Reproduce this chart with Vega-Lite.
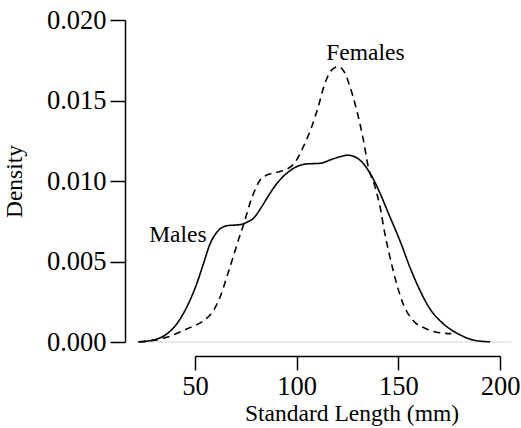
{
  "$schema": "https://vega.github.io/schema/vega-lite/v6.json",
  "width": 305,
  "height": 322,
  "autosize": {"type": "none"},
  "padding": {"left": 195, "top": 20, "right": 21, "bottom": 86},
  "background": "white",
  "config": {"view": {"stroke": null}, "font": "Liberation Serif"},
  "datasets": {
    "dens": [
      {"sex": "Males", "len": 22.1, "d": 0.00001},
      {"sex": "Males", "len": 29.5, "d": 0.000124},
      {"sex": "Males", "len": 36.1, "d": 0.000497},
      {"sex": "Males", "len": 41.0, "d": 0.00112},
      {"sex": "Males", "len": 45.9, "d": 0.00216},
      {"sex": "Males", "len": 50.8, "d": 0.0036},
      {"sex": "Males", "len": 54.1, "d": 0.00484},
      {"sex": "Males", "len": 57.4, "d": 0.00609},
      {"sex": "Males", "len": 60.7, "d": 0.00681},
      {"sex": "Males", "len": 65.6, "d": 0.00722},
      {"sex": "Males", "len": 72.1, "d": 0.00729},
      {"sex": "Males", "len": 76.2, "d": 0.00748},
      {"sex": "Males", "len": 78.7, "d": 0.00768},
      {"sex": "Males", "len": 82.8, "d": 0.0084},
      {"sex": "Males", "len": 86.9, "d": 0.00924},
      {"sex": "Males", "len": 91.0, "d": 0.00996},
      {"sex": "Males", "len": 95.1, "d": 0.01048},
      {"sex": "Males", "len": 100.0, "d": 0.01089},
      {"sex": "Males", "len": 104.9, "d": 0.01106},
      {"sex": "Males", "len": 111.5, "d": 0.0111},
      {"sex": "Males", "len": 118.0, "d": 0.01138},
      {"sex": "Males", "len": 125.4, "d": 0.0116},
      {"sex": "Males", "len": 131.1, "d": 0.0113},
      {"sex": "Males", "len": 136.1, "d": 0.01048},
      {"sex": "Males", "len": 141.0, "d": 0.00924},
      {"sex": "Males", "len": 145.1, "d": 0.008},
      {"sex": "Males", "len": 150.8, "d": 0.00629},
      {"sex": "Males", "len": 155.7, "d": 0.00464},
      {"sex": "Males", "len": 160.7, "d": 0.00319},
      {"sex": "Males", "len": 165.6, "d": 0.00205},
      {"sex": "Males", "len": 170.5, "d": 0.00132},
      {"sex": "Males", "len": 175.4, "d": 0.00081},
      {"sex": "Males", "len": 180.3, "d": 0.00045},
      {"sex": "Males", "len": 186.9, "d": 0.00012},
      {"sex": "Males", "len": 195.1, "d": 0.00001},
      {"sex": "Females", "len": 22.5, "d": 0.00001},
      {"sex": "Females", "len": 28.7, "d": 0.00008},
      {"sex": "Females", "len": 36.1, "d": 0.00029},
      {"sex": "Females", "len": 45.9, "d": 0.00081},
      {"sex": "Females", "len": 54.1, "d": 0.00132},
      {"sex": "Females", "len": 59.0, "d": 0.00194},
      {"sex": "Females", "len": 62.3, "d": 0.00278},
      {"sex": "Females", "len": 65.6, "d": 0.00402},
      {"sex": "Females", "len": 68.8, "d": 0.0053},
      {"sex": "Females", "len": 71.5, "d": 0.0064},
      {"sex": "Females", "len": 74.3, "d": 0.00745},
      {"sex": "Females", "len": 77.0, "d": 0.00861},
      {"sex": "Females", "len": 79.5, "d": 0.00944},
      {"sex": "Females", "len": 82.0, "d": 0.01006},
      {"sex": "Females", "len": 85.3, "d": 0.01037},
      {"sex": "Females", "len": 90.2, "d": 0.01054},
      {"sex": "Females", "len": 95.1, "d": 0.01073},
      {"sex": "Females", "len": 98.5, "d": 0.01105},
      {"sex": "Females", "len": 103.3, "d": 0.01213},
      {"sex": "Females", "len": 107.4, "d": 0.01337},
      {"sex": "Females", "len": 110.6, "d": 0.01461},
      {"sex": "Females", "len": 113.9, "d": 0.01607},
      {"sex": "Females", "len": 117.2, "d": 0.01689},
      {"sex": "Females", "len": 120.5, "d": 0.0171},
      {"sex": "Females", "len": 123.8, "d": 0.01669},
      {"sex": "Females", "len": 126.2, "d": 0.01586},
      {"sex": "Females", "len": 129.5, "d": 0.01441},
      {"sex": "Females", "len": 132.8, "d": 0.01255},
      {"sex": "Females", "len": 135.2, "d": 0.01089},
      {"sex": "Females", "len": 138.5, "d": 0.00965},
      {"sex": "Females", "len": 141.0, "d": 0.0084},
      {"sex": "Females", "len": 143.4, "d": 0.00671},
      {"sex": "Females", "len": 145.9, "d": 0.00526},
      {"sex": "Females", "len": 149.2, "d": 0.0036},
      {"sex": "Females", "len": 152.4, "d": 0.00236},
      {"sex": "Females", "len": 157.4, "d": 0.00132},
      {"sex": "Females", "len": 163.9, "d": 0.00081},
      {"sex": "Females", "len": 170.5, "d": 0.00057},
      {"sex": "Females", "len": 176.0, "d": 0.00052}
    ],
    "labels": [
      {"label": "Females", "len": 133.8, "d": 0.01751},
      {"label": "Males", "len": 41.6, "d": 0.00623}
    ],
    "zero": [
      {"x1": 21.5, "x2": 205.5, "d": 0}
    ]
  },
  "layer": [
    {
      "data": {"name": "zero"},
      "mark": {"type": "rule", "stroke": "#d6d6d6", "strokeWidth": 1},
      "encoding": {
        "x": {"field": "x1", "type": "quantitative"},
        "x2": {"field": "x2"},
        "y": {"field": "d", "type": "quantitative"}
      }
    },
    {
      "data": {"name": "dens"},
      "mark": {"type": "line", "interpolate": "monotone", "stroke": "black", "strokeWidth": 1.6},
      "encoding": {
        "x": {
          "field": "len",
          "type": "quantitative",
          "scale": {"domain": [50, 200], "nice": false, "zero": false},
          "axis": {
            "offset": 14,
            "values": [50, 100, 150, 200],
            "tickSize": 14,
            "tickColor": "black",
            "tickWidth": 1.5,
            "domainColor": "black",
            "domainWidth": 1.5,
            "grid": false,
            "labelFont": "Liberation Serif",
            "labelFontSize": 26.5,
            "labelColor": "black",
            "labelPadding": 3,
            "labelFlush": false,
            "labelOverlap": false,
            "labelBound": false,
            "title": "Standard Length (mm)",
            "titleFont": "Liberation Serif",
            "titleFontSize": 23.5,
            "titleFontWeight": "normal",
            "titleColor": "black",
            "titleX": 156.5,
            "titleY": 45.5,
            "titleAlign": "center"
          }
        },
        "y": {
          "field": "d",
          "type": "quantitative",
          "scale": {"domain": [0, 0.02], "nice": false},
          "axis": {
            "offset": 70,
            "values": [0, 0.005, 0.01, 0.015, 0.02],
            "format": ".3f",
            "tickSize": 15,
            "tickColor": "black",
            "tickWidth": 1.5,
            "domainColor": "black",
            "domainWidth": 1.5,
            "grid": false,
            "labelFont": "Liberation Serif",
            "labelFontSize": 26.5,
            "labelColor": "black",
            "labelPadding": 4,
            "labelFlush": false,
            "labelOverlap": false,
            "labelBound": false,
            "title": "Density",
            "titleFont": "Liberation Serif",
            "titleFontSize": 23.5,
            "titleFontWeight": "normal",
            "titleColor": "black",
            "titleX": -99,
            "titleY": 161,
            "titleAlign": "center"
          }
        },
        "detail": {"field": "sex"},
        "strokeDash": {
          "field": "sex",
          "type": "nominal",
          "scale": {"domain": ["Females", "Males"], "range": [[7, 5], [1, 0]]},
          "legend": null
        }
      }
    },
    {
      "data": {"name": "labels"},
      "mark": {"type": "text", "font": "Liberation Serif", "fontSize": 23.5, "align": "center", "baseline": "alphabetic", "color": "black"},
      "encoding": {
        "x": {"field": "len", "type": "quantitative"},
        "y": {"field": "d", "type": "quantitative"},
        "text": {"field": "label"}
      }
    }
  ]
}
